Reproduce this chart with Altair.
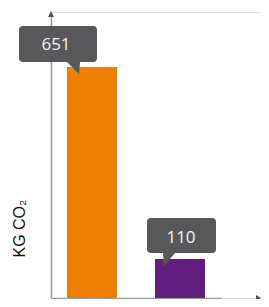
import altair as alt
import pandas as pd

# data
categories = ["Option A", "Option B"]
values = [651, 110]
labels = ["651", "110"]
bar_colors = ["#EF7F00", "#621E7E"]

df = pd.DataFrame({"cat": categories, "value": values, "label": labels})

W, H = 210, 286

x_enc = alt.X("cat:N", scale=alt.Scale(domain=categories, range=[0, 170],
                                        paddingInner=0.432, paddingOuter=0.182),
              axis=alt.Axis(title=None, labels=False, ticks=False, domainColor="#9a9a9a",
                            domainWidth=1.5, grid=False))
y_scale = alt.Scale(domain=[0, 806], nice=False, zero=True)

bars = alt.Chart(df).mark_bar().encode(
    x=x_enc,
    y=alt.Y("value:Q", scale=y_scale,
            axis=alt.Axis(title="KG CO₂", labels=False, ticks=False, grid=False,
                          domainColor="#9a9a9a", domainWidth=1.5,
                          titleFont="Liberation Sans", titleFontSize=16,
                          titleFontWeight="normal", titleColor="#111111",
                          titleX=-27, titleY=245, titleAlign="left",
                          titleBaseline="alphabetic", titleAngle=270)),
    color=alt.Color("cat:N", scale=alt.Scale(domain=categories, range=bar_colors), legend=None),
)

path1 = ("M-69,-41 H1 Q5,-41 5,-37 V-9 Q5,-5 1,-5 H-12 L-13,7 L-25,-5 H-69 "
         "Q-73,-5 -73,-9 V-37 Q-73,-41 -69,-41 Z")
path2 = ("M-29,-41 H32 Q36,-41 36,-37 V-10 Q36,-6 32,-6 H-5 L-16,7 L-17,-6 H-29 "
         "Q-33,-6 -33,-10 V-37 Q-33,-41 -29,-41 Z")

callouts = alt.Chart(df).mark_point(filled=True, opacity=1, strokeWidth=0).encode(
    x=alt.X("cat:N"),
    y=alt.Y("value:Q"),
    shape=alt.Shape("cat:N", scale=alt.Scale(domain=categories, range=[path1, path2]), legend=None),
    size=alt.value(4),
    color=alt.value("#58585A"),
)

text_style = dict(font="Open Sans", fontSize=17, color="#F4F4F4", baseline="middle", align="center")
t1 = alt.Chart(df).transform_filter(alt.datum.cat == categories[0]).mark_text(
    dx=-36, dy=-22, **text_style).encode(x="cat:N", y="value:Q", text="label:N")
t2 = alt.Chart(df).transform_filter(alt.datum.cat == categories[1]).mark_text(
    dx=1, dy=-21, **text_style).encode(x="cat:N", y="value:Q", text="label:N")

arrow_up = alt.Chart(df).transform_filter(alt.datum.cat == categories[0]).mark_point(
    filled=True, opacity=1, strokeWidth=0, shape="M0,-6L3,0L-3,0Z", size=4, color="#555555"
).encode(x=alt.value(0), y=alt.value(5))

arrow_right = alt.Chart(df).transform_filter(alt.datum.cat == categories[0]).mark_point(
    filled=True, opacity=1, strokeWidth=0, shape="M0,0L-5,-3L-5,3Z", size=4, color="#555555"
).encode(x=alt.value(W), y=alt.value(H))

chart = alt.layer(bars, callouts, t1, t2, arrow_up, arrow_right).properties(
    width=W, height=H,
    autosize=alt.AutoSizeParams(type="none"),
    padding={"left": 43, "top": 4, "right": 0, "bottom": 1},
).configure_view(stroke=None).configure(background="white")

chart.save("out.html", embed_options={"renderer": "svg", "actions": False})
